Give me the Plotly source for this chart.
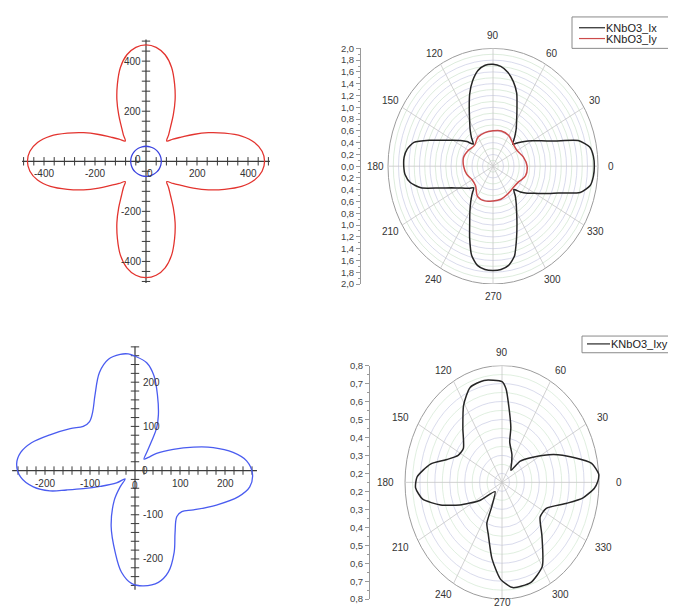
import numpy as np
import plotly.graph_objects as go

# ---------------- data ----------------
# Panel 1 (top-left, Cartesian): red four-petal curve r(theta), blue circle
p1_theta = list(range(0, 361, 5))
p1_red_r = [465, 457, 432, 388, 328, 270, 214, 168, 138, 115, 138, 168, 214, 270, 328, 388, 432, 457,
            465, 457, 432, 388, 328, 270, 214, 168, 138, 115, 138, 168, 214, 270, 328, 388, 432, 457,
            465, 457, 432, 388, 328, 270, 214, 168, 138, 115, 138, 168, 214, 270, 328, 388, 432, 457,
            465, 457, 432, 388, 328, 270, 214, 168, 138, 115, 138, 168, 214, 270, 328, 388, 432, 457,
            465]
p1_blue_theta = list(range(0, 361, 15))
p1_blue_r = [60, 60, 60, 60, 60, 60, 60, 60, 60, 60, 60, 60, 60,
             60, 60, 60, 60, 60, 60, 60, 60, 60, 60, 60, 60]
p1_labels = [-400, -200, 200, 400]

# Panel 3 (bottom-left, Cartesian): blue pinwheel curve (x, y)
p3_x = [-15, 0, 26, 42, 50, 52, 48, 37, 26, 20, 30, 48, 85, 130, 174, 218, 248, 261, 255, 230, 181,
        130, 104, 93, 89, 87, 74, 52, 19, -7, -30, -44, -53, -46, -33, -22, -41, -78, -115, -152,
        -189, -226, -254, -263, -254, -230, -189, -144, -115, -101, -94, -89, -79, -59, -33, -15]
p3_y = [264, 259, 244, 215, 170, 126, 96, 67, 41, 26, 30, 39, 48, 53, 52, 41, 22, -7, -37, -59, -78,
        -89, -93, -104, -141, -185, -230, -253, -261, -256, -230, -185, -126, -67, -37, -19, -28, -36,
        -41, -44, -46, -37, -15, 15, 41, 63, 81, 95, 100, 111, 133, 170, 222, 252, 263, 264]
p3_labels = [-200, -100, 100, 200]

# Panel 2 (top-right, polar): KNbO3_Ix and KNbO3_Iy
ix_theta = list(range(0, 361, 5))
ix_r = [1.93, 1.92, 1.87, 1.68, 1.25, 1.02, 0.86, 0.73, 0.62, 0.53, 0.64, 0.77, 0.90, 1.08, 1.32, 1.49,
        1.62, 1.70, 1.73, 1.72, 1.65, 1.50, 1.30, 1.07, 0.89, 0.76, 0.64, 0.53, 0.65, 0.76, 0.88, 1.04,
        1.29, 1.56, 1.66, 1.70, 1.70, 1.68, 1.60, 1.42, 1.08, 0.87, 0.74, 0.65, 0.58, 0.52, 0.62, 0.74,
        0.88, 1.05, 1.30, 1.57, 1.71, 1.76, 1.77, 1.76, 1.71, 1.58, 1.31, 1.08, 0.90, 0.77, 0.66, 0.56,
        0.68, 0.80, 0.92, 1.10, 1.33, 1.72, 1.88, 1.92, 1.93]
iy_theta = list(range(0, 361, 15))
iy_r = [0.65, 0.60, 0.53, 0.54, 0.60, 0.62, 0.60, 0.59, 0.57, 0.50, 0.54, 0.58, 0.56,
        0.52, 0.46, 0.47, 0.59, 0.61, 0.59, 0.58, 0.55, 0.53, 0.55, 0.64, 0.65]
p2_radial_ticks = [0.0, 0.2, 0.4, 0.6, 0.8, 1.0, 1.2, 1.4, 1.6, 1.8, 2.0]
p2_rmax = 2.0

# Panel 4 (bottom-right, polar): KNbO3_Ixy
ixy_theta = [0, 4, 10, 16, 24, 34, 44, 48, 60, 67, 77, 79, 84, 87, 90, 102, 112, 121, 131, 144, 153,
             161, 168, 177, 183, 190, 197, 204, 214, 228, 243, 246, 252, 261, 269, 277, 289, 300, 312,
             323, 334, 345, 351, 357, 360]
ixy_r = [0.79, 0.80, 0.76, 0.65, 0.53, 0.40, 0.32, 0.24, 0.28, 0.32, 0.38, 0.46, 0.58, 0.67, 0.71, 0.73,
         0.72, 0.65, 0.55, 0.47, 0.48, 0.54, 0.64, 0.72, 0.73, 0.69, 0.58, 0.46, 0.33, 0.22, 0.30, 0.40,
         0.45, 0.58, 0.69, 0.74, 0.74, 0.69, 0.55, 0.47, 0.48, 0.60, 0.70, 0.77, 0.79]
p4_radial_ticks = [0.2, 0.3, 0.4, 0.5, 0.6, 0.7, 0.8]
p4_r0, p4_rmax = 0.15, 0.8

angle_labels = [0, 30, 60, 90, 120, 150, 180, 210, 240, 270, 300, 330]

# ---------------- layout geometry (pixels of the 676x615 window) ----------------
OFF = 8                      # default page margin of the html body
WIN_W, WIN_H = 676, 615
W, H = WIN_W - OFF, WIN_H - OFF

def PX(x):
    return (x - OFF) / W

def PY(y):
    return 1 - (y - OFF) / H

def xdom(l, r):
    return [PX(l), PX(r)]

def ydom(t, b):
    return [PY(b), PY(t)]

FONT = "Liberation Sans, Arial, sans-serif"
AX = "#3a3a3a"
TXT = "#333333"

fig = go.Figure()
shapes = []
annotations = []

def pol(theta, r, r0=0.0):
    t = np.radians(np.asarray(theta, float))
    rr = np.asarray(r, float) - r0
    return rr * np.cos(t), rr * np.sin(t)

def line_trace(x, y, xa, ya, color, width=1.2, shape="linear", name=None, smoothing=1.0):
    return go.Scatter(x=x, y=y, mode="lines", name=name, xaxis=xa, yaxis=ya, showlegend=False,
                      line=dict(color=color, width=width, shape=shape, smoothing=smoothing),
                      hoverinfo="skip")

def tick_trace(x, y, xa, ya, symbol):
    return go.Scatter(x=x, y=y, mode="markers", xaxis=xa, yaxis=ya, showlegend=False, hoverinfo="skip",
                      marker=dict(symbol=symbol, size=6, line=dict(color=AX, width=1)))

def label(x, y, text, xref, yref, xanchor, yanchor, xshift=0, yshift=0, size=10):
    annotations.append(dict(x=x, y=y, xref=xref, yref=yref, text=text, showarrow=False,
                            xanchor=xanchor, yanchor=yanchor, xshift=xshift, yshift=yshift,
                            font=dict(size=size, color=TXT, family=FONT)))

# ---------- Panel 1 ----------
P1_O, P1_K, P1_BOX = (146, 158), 0.255, (10, 22, 290, 294)
p1_ext = 486
tk1 = [v for v in range(-480, 481, 40) if v != 0]
fig.add_trace(line_trace([-p1_ext, p1_ext], [0, 0], "x", "y", AX))
fig.add_trace(line_trace([0, 0], [-p1_ext, p1_ext], "x", "y", AX))
fig.add_trace(tick_trace(tk1, [0] * len(tk1), "x", "y", "line-ns"))
fig.add_trace(tick_trace([0] * len(tk1), tk1, "x", "y", "line-ew"))
x, y = pol(p1_theta, p1_red_r)
fig.add_trace(line_trace(x, y, "x", "y", "#e3342f", 1.3, "spline"))
x, y = pol(p1_blue_theta, p1_blue_r)
fig.add_trace(line_trace(x, y, "x", "y", "#3b43e0", 1.3, "spline"))
for v in p1_labels:
    label(v, 0, str(v), "x", "y", "center", "top", 0, -5)
    label(0, v, str(v), "x", "y", "right", "middle", -3, 0)
label(0, 0, "0", "x", "y", "right", "middle", -3, 2)
label(0, 0, "0", "x", "y", "left", "top", -1, -5)

# ---------- Panel 3 ----------
P3_O, P3_K, P3_BOX = (135, 473), 0.45, (10, 338, 280, 615)
p3_xext, p3_yext = (-273, 271), (-270, 281)
tk3x = [v for v in range(-260, 261, 20) if v != 0]
tk3y = [v for v in range(-260, 281, 20) if v != 0]
fig.add_trace(line_trace(list(p3_xext), [0, 0], "x3", "y3", AX))
fig.add_trace(line_trace([0, 0], list(p3_yext), "x3", "y3", AX))
fig.add_trace(tick_trace(tk3x, [0] * len(tk3x), "x3", "y3", "line-ns"))
fig.add_trace(tick_trace([0] * len(tk3y), tk3y, "x3", "y3", "line-ew"))
fig.add_trace(line_trace(p3_x, p3_y, "x3", "y3", "#4a5cf0", 1.3, "spline"))
for v in p3_labels:
    label(v, 0, str(v), "x3", "y3", "center", "top", 0, -5)
    label(0, v, str(v), "x3", "y3", "left", "middle", 6, 0)
label(0, 0, "0", "x3", "y3", "left", "middle", 5, 0)
label(0, 0, "0", "x3", "y3", "center", "top", 0, -7)

# ---------- Panel 2 ----------
P2_C, P2_KX, P2_KY, P2_BOX = (493, 163), 52.5, 60.0, (361, 43, 676, 283)
x, y = pol(ix_theta, ix_r)
fig.add_trace(line_trace(x, y, "x2", "y2", "#262626", 1.5, "spline", "KNbO3_Ix", 0.6))
x, y = pol(iy_theta, iy_r)
fig.add_trace(line_trace(x, y, "x2", "y2", "#cc4a4a", 1.5, "spline", "KNbO3_Iy"))

# ---------- Panel 4 ----------
P4_C, P4_KX, P4_KY, P4_BOX = (502, 485), 149.2, 183.0, (370, 366, 676, 604)
x, y = pol(ixy_theta, ixy_r, p4_r0)
fig.add_trace(line_trace(x, y, "x4", "y4", "#262626", 1.5, "spline", "KNbO3_Ixy", 0.6))

# ---------- polar grids (rings, spokes, angle labels) ----------
def polar_grid(xr, yr, rings, rmax, center, lab_rx, lab_ry, lab_ymax):
    for rho, col in rings:
        shapes.append(dict(type="circle", xref=xr, yref=yr, x0=-rho, x1=rho, y0=-rho, y1=rho,
                           line=dict(color=col, width=0.7), layer="below"))
    shapes.append(dict(type="circle", xref=xr, yref=yr, x0=-rmax, x1=rmax, y0=-rmax, y1=rmax,
                       line=dict(color="#9c9c9c", width=1), layer="below"))
    cx, cy = center
    for a in angle_labels:
        t = np.radians(a)
        shapes.append(dict(type="line", xref=xr, yref=yr, x0=0, y0=0, x1=rmax * np.cos(t), y1=rmax * np.sin(t),
                           line=dict(color="#c6c6c6", width=0.8), layer="below"))
        lx = cx + lab_rx * np.cos(t)
        ly = min(cy - lab_ry * np.sin(t), lab_ymax)
        label(PX(lx), PY(ly), str(a), "paper", "paper", "center", "middle")

rings2 = [(k / 10, "#c8cbe4" if k % 2 == 0 else "#cfe4cf") for k in range(1, 20)]
polar_grid("x2", "y2", rings2, p2_rmax, P2_C, 118, 133, 600)
rings4 = []
for k in range(20, 80, 5):
    rings4.append((k / 100 - p4_r0, "#c8cbe4" if k % 10 == 0 else "#d3e8d3"))
polar_grid("x4", "y4", rings4, p4_rmax - p4_r0, P4_C, 117, 132, 607)

# ---------- legends (boxed, like the original) ----------
def legend_box(x0, y0, x1, y1, line_l, line_r, text_x, entries):
    shapes.append(dict(type="rect", xref="paper", yref="paper", x0=PX(x0), x1=PX(x1), y0=PY(y1), y1=PY(y0),
                       line=dict(color="#8a8a8a", width=1), fillcolor="white", layer="above"))
    for (name, color, ly) in entries:
        shapes.append(dict(type="line", xref="paper", yref="paper", x0=PX(line_l), x1=PX(line_r),
                           y0=PY(ly), y1=PY(ly), line=dict(color=color, width=1.2), layer="above"))
        annotations.append(dict(x=PX(text_x), y=PY(ly), xref="paper", yref="paper", text=name,
                                showarrow=False, xanchor="left", yanchor="middle",
                                font=dict(size=11, color="#222222", family=FONT)))

legend_box(572, 11, 669, 43, 579, 605, 604, [("KNbO3_Ix", "#262626", 22), ("KNbO3_Iy", "#cc4a4a", 33)])
legend_box(582, 336, 700, 353, 587, 610, 609, [("KNbO3_Ixy", "#262626", 344)])

# ---------- axes ----------
def fmt(v):
    return f"{abs(v):.1f}".replace(".", ",")

p2_vals = [-v for v in reversed(p2_radial_ticks)] + p2_radial_ticks[1:]
p2_text = [fmt(v) for v in p2_vals]
p4_vals = [-(v - p4_r0) for v in reversed(p4_radial_ticks)] + [v - p4_r0 for v in p4_radial_ticks]
p4_text = [fmt(v) for v in reversed(p4_radial_ticks)] + [fmt(v) for v in p4_radial_ticks]

hidden = dict(visible=False, showgrid=False, zeroline=False, fixedrange=True)

def cart_axes(box, origin, kx, ky, xa_name, ya_name):
    l, t, r, b = box
    ox, oy = origin
    xa = dict(hidden, domain=xdom(l, r), range=[(l - ox) / kx, (r - ox) / kx], anchor=ya_name)
    ya = dict(hidden, domain=ydom(t, b), range=[(oy - b) / ky, (oy - t) / ky], anchor=xa_name)
    return xa, ya

x1a, y1a = cart_axes(P1_BOX, P1_O, P1_K, P1_K, "x", "y")
x3a, y3a = cart_axes(P3_BOX, P3_O, P3_K, P3_K, "x3", "y3")
x2a, y2a = cart_axes(P2_BOX, P2_C, P2_KX, P2_KY, "x2", "y2")
x4a, y4a = cart_axes(P4_BOX, P4_C, P4_KX, P4_KY, "x4", "y4")

def radial_axis(base, vals, text, minor_dt):
    return dict(base, visible=True, side="left", showline=True, linecolor="#9a9a9a",
                linewidth=1, ticks="outside", ticklen=4, tickcolor="#9a9a9a", tickvals=vals,
                ticktext=text, tickfont=dict(size=9.5, color="#444444", family=FONT),
                minor=dict(ticks="outside", ticklen=2, tickcolor="#9a9a9a", dtick=minor_dt, tick0=0,
                           showgrid=False))

y2a = radial_axis(y2a, p2_vals, p2_text, 0.1)
y4a = radial_axis(y4a, p4_vals, p4_text, 0.05)

fig.update_layout(
    width=W, height=H, margin=dict(l=0, r=0, t=0, b=0),
    paper_bgcolor="white", plot_bgcolor="rgba(0,0,0,0)",
    font=dict(family=FONT, color=TXT), showlegend=False,
    xaxis=x1a, yaxis=y1a, xaxis2=x2a, yaxis2=y2a, xaxis3=x3a, yaxis3=y3a, xaxis4=x4a, yaxis4=y4a,
    shapes=shapes, annotations=annotations,
    hovermode=False,
)

fig.write_html("out.html")
